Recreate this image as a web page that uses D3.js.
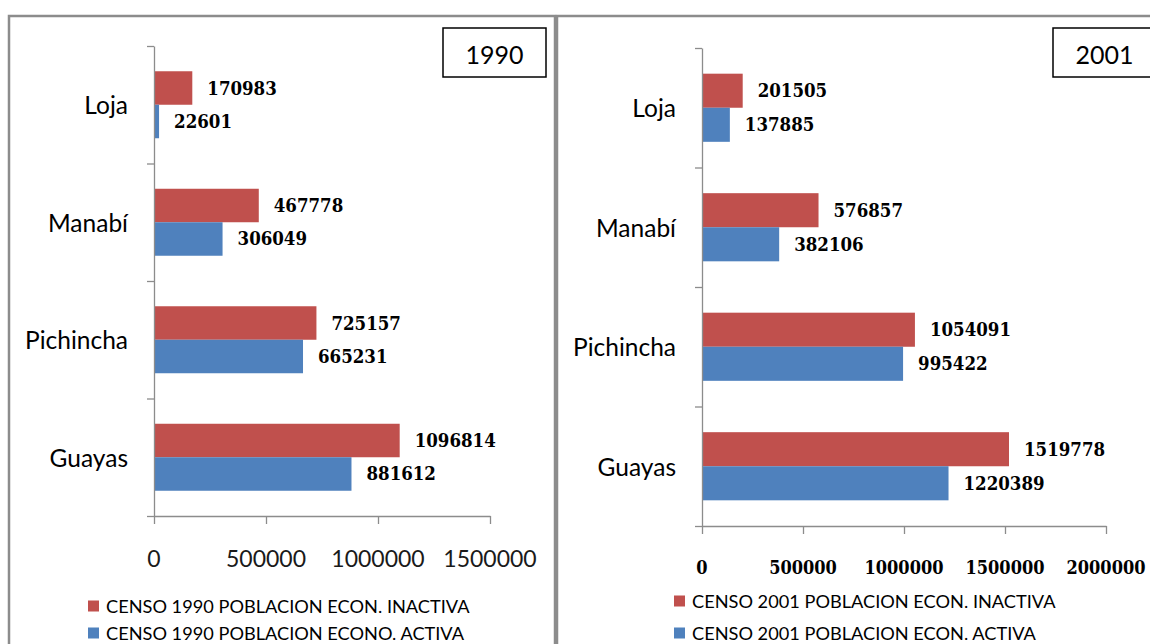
<!DOCTYPE html>
<html><head><meta charset="utf-8">
<script src="https://cdn.jsdelivr.net/npm/d3@7"></script>
<style>html,body{margin:0;padding:0;background:#fff;overflow:hidden}</style>
</head><body><svg id="c" width="1150" height="644"></svg>
<script>
// ---- data ----
const categories = ["Loja", "Manabí", "Pichincha", "Guayas"];
const inactiva1990 = [170983, 467778, 725157, 1096814];
const activa1990 = [22601, 306049, 665231, 881612];
const inactiva2001 = [201505, 576857, 1054091, 1519778];
const activa2001 = [137885, 382106, 995422, 1220389];
const ticks1990 = [0, 500000, 1000000, 1500000];
const ticks2001 = [0, 500000, 1000000, 1500000, 2000000];
const legend1990 = ["CENSO 1990 POBLACION ECON. INACTIVA", "CENSO 1990 POBLACION ECONO. ACTIVA"];
const legend2001 = ["CENSO 2001 POBLACION ECON. INACTIVA", "CENSO 2001 POBLACION ECON. ACTIVA"];
const seriesKeys = ["inactiva", "activa"];
const colors = {inactiva: "#C0504D", activa: "#4F81BD"};

const SERIF = '"DejaVu Serif Condensed","DejaVu Serif",serif';
const SANS = 'Lato,"Open Sans",sans-serif';

const svg = d3.select("#c");
svg.append("rect").attr("width", 1150).attr("height", 644).attr("fill", "#fff");

const panels = [
  {year: "1990", inactiva: inactiva1990, activa: activa1990, ticks: ticks1990, legend: legend1990,
   frame: [9, 16, 546, 720], x0: 154, x1: 490, xmax: 1500000, top: 46, bottom: 516,
   box: [443, 28, 103, 49], tickFont: SANS, tickWeight: "normal", tickSize: 23, tickFill: "#1a1a1a", tickY: 558,
   legX: 88, legY: [606, 633]},
  {year: "2001", inactiva: inactiva2001, activa: activa2001, ticks: ticks2001, legend: legend2001,
   frame: [557, 16, 640, 720], x0: 702, x1: 1106, xmax: 2000000, top: 48, bottom: 526,
   box: [1053, 28, 103, 49], tickFont: SERIF, tickWeight: "bold", tickSize: 18, tickFill: "#000", tickY: 567,
   legX: 674, legY: [601, 633]}
];

panels.forEach(p => {
  const g = svg.append("g");
  // frame
  g.append("rect").attr("x", p.frame[0]).attr("y", p.frame[1]).attr("width", p.frame[2]).attr("height", p.frame[3])
    .attr("fill", "none").attr("stroke", "#8c8c8c").attr("stroke-width", 2.5);

  const x = d3.scaleLinear().domain([0, p.xmax]).range([p.x0, p.x1]);
  const yb = d3.scaleBand().domain(categories).range([p.top, p.bottom]).paddingInner(0).paddingOuter(0);
  const ys = d3.scaleBand().domain(seriesKeys).range([0, yb.bandwidth()]).paddingInner(0).paddingOuter(0.754);
  const yl = d3.scaleLinear().domain([0, categories.length]).range([p.top, p.bottom]);

  // bars
  categories.forEach((c, i) => {
    seriesKeys.forEach(s => {
      const v = p[s][i];
      g.append("rect")
        .attr("x", x(0)).attr("y", yb(c) + ys(s))
        .attr("width", x(v) - x(0)).attr("height", ys.bandwidth())
        .attr("fill", colors[s]);
      g.append("text")
        .attr("x", x(v) + 15).attr("y", yb(c) + ys(s) + ys.bandwidth() / 2)
        .attr("dominant-baseline", "central")
        .attr("font-family", SERIF).attr("font-weight", "bold").attr("font-size", 18.5)
        .attr("fill", "#000").text(v);
    });
    g.append("text")
      .attr("x", p.x0 - 26).attr("y", yb(c) + yb.bandwidth() / 2)
      .attr("text-anchor", "end").attr("dominant-baseline", "central")
      .attr("font-family", SANS).attr("font-size", 24.5).attr("fill", "#000").text(c);
  });

  // axes
  const ya = g.append("g").attr("transform", `translate(${p.x0},0)`)
    .call(d3.axisLeft(yl).tickValues(d3.range(categories.length + 1)).tickSize(7).tickSizeOuter(0).tickFormat(""));
  const xa = g.append("g").attr("transform", `translate(0,${p.bottom})`)
    .call(d3.axisBottom(x).tickValues(p.ticks).tickSize(8).tickSizeOuter(0).tickFormat(""));
  [ya, xa].forEach(a => {
    a.selectAll("path,line").attr("stroke", "#8c8c8c").attr("stroke-width", 1.3);
  });
  p.ticks.forEach(t => {
    g.append("text").attr("x", x(t)).attr("y", p.tickY)
      .attr("text-anchor", "middle").attr("dominant-baseline", "central")
      .attr("font-family", p.tickFont).attr("font-weight", p.tickWeight).attr("font-size", p.tickSize)
      .attr("fill", p.tickFill).text(d3.format("d")(t));
  });

  // year box
  g.append("rect").attr("x", p.box[0]).attr("y", p.box[1]).attr("width", p.box[2]).attr("height", p.box[3])
    .attr("fill", "#fff").attr("stroke", "#000").attr("stroke-width", 1.5);
  g.append("text").attr("x", p.box[0] + p.box[2] / 2).attr("y", p.box[1] + p.box[3] / 2 + 1)
    .attr("text-anchor", "middle").attr("dominant-baseline", "central")
    .attr("font-family", SANS).attr("font-size", 25).attr("fill", "#000").text(p.year);

  // legend
  seriesKeys.forEach((s, j) => {
    g.append("rect").attr("x", p.legX).attr("y", p.legY[j] - 5.5).attr("width", 11).attr("height", 11)
      .attr("fill", colors[s]);
    g.append("text").attr("x", p.legX + 18).attr("y", p.legY[j])
      .attr("dominant-baseline", "central")
      .attr("font-family", SANS).attr("font-size", 18.2).attr("fill", "#000").text(p.legend[j]);
  });
});
</script>
</body></html>
